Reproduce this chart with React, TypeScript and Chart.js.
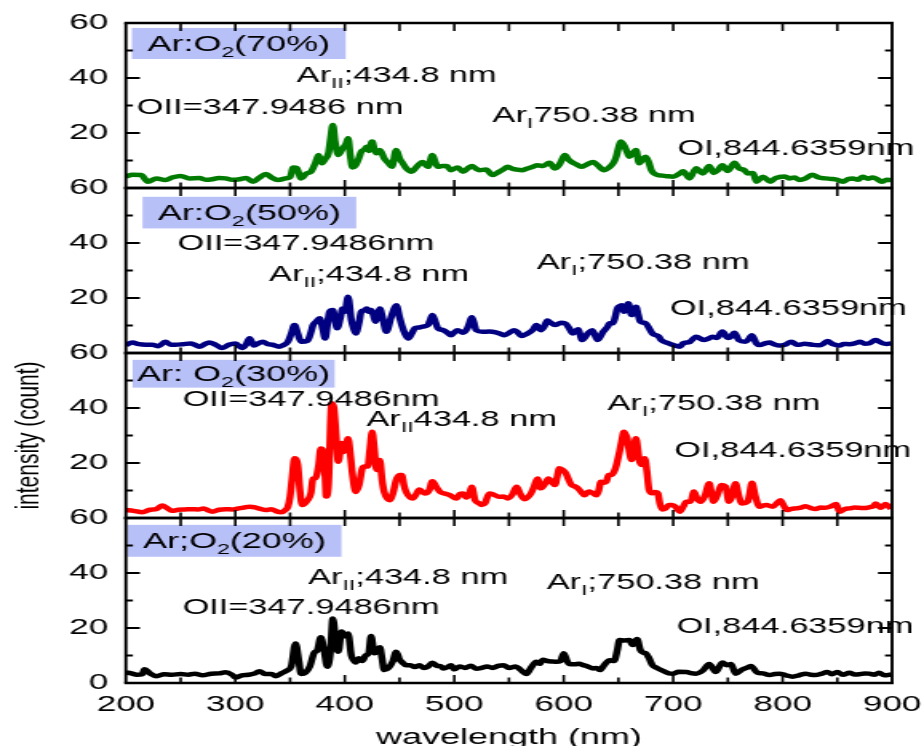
import React, { useEffect, useRef } from 'react';
import { Chart, registerables } from 'chart.js';

Chart.register(...registerables);

// ---------------- data ----------------
const xTicks = [200, 300, 400, 500, 600, 700, 800, 900];
const yTickLabels = [0, 20, 40, 60];

// Ar:O2 (70%) - green
const wl70 = [200, 206, 214, 220, 228, 236, 243, 250, 258, 267, 273, 279, 285, 291, 297, 304, 310, 316, 322, 328, 333, 339, 346, 350, 353, 356, 360, 365, 369, 373, 376, 379, 382, 385, 387, 389, 391, 394, 398, 401, 403, 405, 407, 410, 413, 415, 418, 420, 422, 425, 427, 429, 432, 436, 440, 443, 447, 450, 453, 456, 461, 464, 467, 471, 476, 480, 483, 485, 489, 493, 497, 503, 508, 512, 516, 520, 523, 529, 535, 541, 545, 549, 553, 557, 562, 566, 572, 576, 581, 587, 592, 596, 598, 601, 604, 607, 612, 616, 621, 627, 631, 637, 643, 646, 648, 650, 652, 655, 658, 660, 663, 666, 669, 672, 675, 678, 680, 686, 690, 694, 700, 706, 709, 715, 721, 727, 733, 737, 741, 745, 750, 756, 760, 765, 768, 773, 776, 782, 789, 793, 797, 802, 806, 811, 815, 821, 827, 833, 839, 845, 850, 855, 860, 864, 869, 873, 878, 882, 885, 891, 895, 899];
const int70 = [4.1, 4.8, 4.7, 2.3, 3.5, 2.9, 3.9, 4.4, 3.5, 3.6, 3.0, 3.2, 3.6, 3.5, 3.0, 3.2, 3.6, 2.3, 3.8, 5.1, 3.8, 2.9, 3.5, 4.0, 7.5, 7.3, 3.5, 5.3, 5.9, 9, 12, 9, 10.5, 12.6, 18, 22.9, 17, 12, 14.4, 16, 18.1, 12, 7.5, 8.3, 11, 13.2, 14, 15, 13.5, 16.9, 14, 12.6, 13.8, 10.8, 9, 7.7, 13.8, 10.8, 9, 7.2, 5.9, 7, 8.3, 9.5, 7.7, 12, 9, 7.7, 8, 8, 6.5, 7.5, 5.9, 7, 8, 7, 6.5, 6.7, 4.7, 5.9, 6.8, 7.7, 7, 6.7, 6.5, 7, 7.7, 8.3, 8, 9.2, 7.1, 8.5, 10, 12, 10.5, 9.5, 8.5, 7.7, 8.5, 9.5, 8.3, 6.5, 8, 9.5, 11.4, 14.5, 16.9, 15.6, 13, 11.4, 12.5, 13.8, 9, 10.5, 11.4, 9, 6.5, 4.7, 4.5, 4.3, 4.1, 5.3, 6.1, 3.5, 7.2, 5.3, 8, 5.5, 6.5, 8.3, 6.2, 9.2, 7.2, 6.5, 5.3, 5.5, 2.3, 4.1, 2.3, 3.5, 4, 4.2, 3.5, 3.8, 2.9, 3.5, 4.8, 3.8, 3.5, 3.3, 3.0, 2.3, 3.3, 3.5, 3.0, 4.1, 3.4, 3.8, 3.5, 2.3, 3.0, 2.9];

// Ar:O2 (50%) - navy
const wl50 = [200, 206, 212, 218, 224, 230, 236, 241, 245, 252, 259, 263, 267, 272, 276, 282, 288, 294, 300, 306, 310, 313, 317, 321, 325, 330, 334, 340, 343, 348, 351, 354, 357, 360, 366, 369, 371, 374, 377, 380, 382, 384, 386, 389, 391, 393, 396, 398, 400, 403, 406, 408, 410, 413, 415, 418, 420, 422, 424, 426, 428, 430, 432, 435, 438, 442, 444, 447, 450, 452, 455, 458, 461, 464, 468, 471, 476, 478, 480, 483, 485, 490, 494, 497, 500, 503, 508, 512, 514, 516, 518, 520, 526, 532, 538, 542, 546, 550, 555, 558, 561, 567, 572, 575, 579, 582, 585, 588, 592, 595, 598, 602, 605, 608, 610, 613, 617, 622, 626, 628, 631, 636, 640, 642, 645, 647, 649, 651, 653, 655, 657, 659, 662, 664, 666, 668, 670, 675, 678, 681, 687, 689, 696, 700, 706, 709, 715, 721, 728, 732, 736, 740, 745, 750, 753, 756, 760, 766, 769, 772, 776, 779, 784, 788, 792, 797, 802, 808, 812, 815, 820, 827, 833, 837, 841, 845, 848, 852, 856, 861, 866, 871, 875, 879, 885, 888, 891, 895, 899];
const int50 = [2.9, 3.8, 3.2, 3.0, 3.0, 2.5, 4.1, 3.0, 3.0, 3.2, 3.5, 3.0, 2.3, 3.2, 3.8, 3.0, 1.8, 3.0, 3.5, 1.8, 3.2, 5.4, 2.7, 3.5, 4.1, 3.2, 3.0, 2.3, 2.7, 4.1, 7, 10.2, 7.1, 4.1, 4.5, 7.5, 10.2, 11.5, 12.6, 8.5, 5.3, 10, 15, 15.6, 12, 9, 13, 16.2, 15, 20.5, 12, 9, 7.1, 11, 15, 15.5, 16.2, 15, 15.6, 14, 11.4, 14, 16.2, 12, 7.7, 12.6, 15, 17.4, 13, 10.2, 7, 5.3, 7, 9, 9.3, 9.6, 10.2, 12, 13.8, 11, 9, 8.3, 7.3, 6.5, 7.5, 8.3, 7.4, 9, 11, 13, 11, 8.3, 7.7, 7.8, 7.5, 7, 6.5, 7.3, 8.3, 7.5, 6.2, 7.1, 8.5, 10.2, 8.3, 9.5, 11.8, 11, 10.2, 10.6, 11, 10.6, 9, 7.1, 7.6, 8.6, 4.7, 7.1, 8.3, 7, 4.7, 7.7, 9.5, 10.8, 10.8, 13, 16.2, 17, 17.4, 15, 16.5, 18.1, 13.8, 15, 16.8, 14, 11.4, 10.8, 9, 7.1, 5.9, 4.7, 3.5, 2.9, 2.3, 3.5, 4, 5.9, 4.7, 5.2, 5.9, 5.5, 7.8, 5.5, 6, 7.4, 4.7, 4.1, 5, 6.5, 3.5, 2.9, 3.5, 3.8, 3.2, 2.7, 3.0, 4.1, 3.2, 3.0, 3.4, 3.0, 2.8, 3.3, 4.4, 3.4, 3.0, 2.7, 3.3, 3.2, 3.5, 4.1, 3.4, 3.5, 4.7, 4.2, 3.6, 3.3, 3.5];

// Ar:O2 (30%) - red
const wl30 = [200, 207, 215, 222, 228, 233, 238, 242, 248, 254, 260, 266, 271, 275, 279, 285, 291, 297, 303, 308, 313, 318, 323, 328, 333, 337, 342, 346, 348, 350, 352, 354, 357, 359, 361, 366, 369, 371, 373, 376, 378, 380, 382, 383, 385, 388, 390, 392, 394, 397, 399, 401, 403, 405, 407, 410, 413, 416, 418, 421, 423, 425, 427, 429, 432, 434, 436, 441, 444, 447, 450, 452, 454, 456, 462, 465, 468, 473, 477, 480, 484, 487, 492, 496, 502, 505, 508, 511, 514, 516, 519, 523, 525, 528, 532, 536, 541, 545, 549, 553, 557, 560, 564, 567, 570, 573, 576, 579, 583, 586, 589, 592, 594, 596, 599, 602, 605, 607, 610, 613, 616, 619, 623, 626, 630, 632, 634, 637, 639, 641, 643, 646, 648, 651, 653, 655, 657, 658, 660, 662, 664, 666, 668, 669, 671, 674, 676, 678, 681, 684, 686, 688, 690, 693, 696, 699, 702, 706, 709, 712, 716, 719, 722, 725, 729, 733, 735, 737, 741, 744, 748, 751, 754, 757, 760, 763, 768, 770, 772, 775, 779, 782, 785, 791, 795, 798, 801, 804, 808, 812, 817, 821, 826, 830, 835, 839, 844, 849, 852, 857, 861, 866, 870, 875, 879, 883, 885, 888, 890, 894, 897, 899];
const int30 = [2.9, 2.6, 2.1, 3.0, 3.3, 4.5, 3.5, 2.6, 3.0, 3.1, 3.2, 3.1, 3.5, 2.8, 2.3, 3.0, 3.2, 3.1, 3.5, 3.8, 4.1, 3.9, 3.3, 2.9, 3.2, 2.5, 2.1, 3.0, 4.1, 7.8, 15, 21.7, 19.3, 10, 4.7, 6.5, 9, 14.4, 14.4, 19, 25.3, 24.5, 15, 7.8, 12, 41.7, 40, 30, 20.5, 27.3, 24, 26, 29, 23.5, 16, 9.5, 12, 18, 18.7, 18.7, 25, 31.4, 25, 17.5, 21.1, 14, 9.5, 6.5, 9, 13.8, 15.6, 15.6, 12, 9.5, 7.1, 8.5, 10.4, 8.9, 10, 13.4, 11, 9.5, 8.8, 8.3, 7.1, 8.7, 8.9, 7.5, 9, 11.4, 6.5, 5.3, 4.7, 5.3, 8.9, 8.5, 7.7, 7.8, 7.1, 8.5, 11.4, 9, 6.8, 7.5, 8.9, 11.5, 14.4, 10.8, 12.5, 14.4, 13, 12, 15, 18.1, 17.5, 16.2, 13.5, 12, 11.5, 10.8, 9.5, 8.3, 9.6, 9.2, 8.3, 10, 13.2, 12.8, 13.2, 15.6, 15.6, 16.8, 19, 24.1, 28, 31.4, 30, 29, 24, 21.1, 25, 29, 24, 21, 19.3, 21.7, 17, 10.2, 9, 9.5, 9, 5, 3.1, 3.5, 4.7, 4.7, 4.1, 2.3, 4, 5.9, 6, 9.6, 7, 5.9, 8, 12.6, 9, 5.9, 9, 12, 11.4, 5.9, 8, 12.6, 8, 5.3, 5.9, 9, 12.8, 8, 4.1, 4.5, 4.7, 4.1, 5.5, 6.5, 4.5, 2.9, 3.3, 3.5, 3.8, 4.3, 3.6, 3.3, 3.8, 3.7, 4.2, 5.1, 2.3, 3.3, 3.5, 3.8, 3.7, 3.6, 3.9, 4.3, 5.3, 4.2, 3.7, 5.1, 4.2, 3.3];

// Ar;O2 (20%) - black
const wl20 = [200, 205, 210, 215, 217, 222, 228, 235, 242, 250, 257, 263, 270, 278, 285, 291, 297, 300, 306, 312, 318, 322, 327, 333, 337, 342, 347, 351, 355, 358, 360, 364, 368, 372, 375, 378, 381, 384, 387, 389, 392, 394, 397, 400, 403, 406, 408, 410, 413, 416, 419, 422, 424, 427, 430, 432, 434, 436, 440, 444, 447, 450, 452, 456, 460, 464, 468, 472, 476, 480, 484, 488, 490, 494, 497, 500, 505, 510, 515, 520, 525, 530, 535, 540, 545, 550, 556, 560, 566, 570, 575, 578, 581, 585, 590, 593, 597, 600, 603, 605, 610, 614, 618, 622, 627, 630, 633, 637, 642, 646, 649, 651, 655, 660, 663, 667, 670, 673, 675, 678, 681, 685, 689, 693, 696, 700, 705, 712, 716, 721, 727, 733, 739, 745, 749, 753, 757, 763, 767, 771, 777, 782, 788, 793, 797, 803, 809, 815, 821, 826, 830, 835, 841, 845, 850, 855, 861, 866, 870, 875, 879, 884, 888, 893, 899];
const int20 = [3.8, 3.5, 3.0, 3.2, 5.0, 3.5, 2.5, 3.2, 3.0, 3.3, 3.0, 3.4, 2.8, 3.4, 3.5, 3.9, 3.0, 2.0, 2.8, 3.0, 3.5, 4.3, 3.3, 3.3, 2.5, 3.5, 4.5, 6, 14.4, 8, 3.3, 3.8, 6, 11, 12, 16.6, 12, 5.9, 12, 23.5, 14, 11.4, 18.7, 17, 18, 10, 8.3, 7.5, 9, 8, 10, 11, 17.1, 10.8, 12, 13, 9, 4.7, 5.5, 8, 11.4, 8.5, 7.7, 6.5, 6.5, 5.8, 6.5, 5.5, 6, 7.4, 6.3, 6, 5.3, 5.8, 6.5, 5.0, 6, 5.5, 6.3, 5.2, 5.5, 6, 5.5, 6.2, 6.5, 5.5, 6.0, 5, 3.3, 5.5, 7.7, 7, 8.5, 8, 7.8, 7.7, 8, 10.8, 8, 6.9, 6.8, 7, 6.5, 6, 5.3, 5.5, 4.7, 6.5, 8.3, 8, 12, 15.6, 15.5, 15.6, 13.8, 16, 12, 11, 10.8, 9, 6.5, 5.5, 4.7, 4, 3.5, 3.4, 4.1, 4, 3.6, 3.4, 4.5, 6.9, 4, 7.5, 6.5, 6.9, 3.4, 4.9, 5.5, 6.2, 3.7, 3.5, 2.9, 3.3, 3.4, 2.8, 2.3, 2.8, 3.4, 3.0, 2.9, 3.3, 4.0, 3.2, 4.0, 3.0, 3.7, 3.1, 3.2, 3.5, 3.4, 3.0, 3.7, 2.8, 3.1];

// ---------------- presentation ----------------
const W_CSS = 924;
const H = 746;
const W = 578; // drawing width; the picture is stretched horizontally to 924 px
const FONT = '"Liberation Sans", Arial, Helvetica, sans-serif';
const ANN_SIZE = 21.5;
const BOX_SIZE = 22.5;
const SUB_SIZE = 14.5;
const BOX_FILL = 'rgb(184,192,248)';

type Run = { t: string; sub?: boolean };
type Ann = { x: number; y: number; runs: Run[] };
type Panel = {
  id: string; wl: number[]; val: number[]; color: string;
  box: { x0: number; x1: number; y0: number; y1: number; runs: Run[] };
  notes: Ann[];
};

const ArII = (tail: string): Run[] => [{ t: 'Ar' }, { t: 'II', sub: true }, { t: tail }];
const ArI = (tail: string): Run[] => [{ t: 'Ar' }, { t: 'I', sub: true }, { t: tail }];
const O2 = (pre: string, pct: string): Run[] => [{ t: pre }, { t: '2', sub: true }, { t: pct }];

// bottom to top (last one is placed at the top of the stack)
const panels: Panel[] = [
  {
    id: 'y20', wl: wl20, val: int20, color: '#000000',
    box: { x0: 201.6, x1: 396.9, y0: 45.9, y1: 57.5, runs: O2('Ar;O', '(20%)') },
    notes: [
      { x: 366.4, y: 38.9, runs: ArII(';434.8 nm') },
      { x: 251.7, y: 28, runs: [{ t: 'OII=347.9486nm' }] },
      { x: 584.5, y: 37.1, runs: ArI(';750.38 nm') },
      { x: 703, y: 21.1, runs: [{ t: 'OI,844.6359nm' }] },
    ],
  },
  {
    id: 'y30', wl: wl30, val: int30, color: '#ff0000',
    box: { x0: 206.1, x1: 390.7, y0: 47.4, y1: 57.5, runs: O2('Ar: O', '(30%)') },
    notes: [
      { x: 251.7, y: 43.6, runs: [{ t: 'OII=347.9486nm' }] },
      { x: 419.7, y: 36.4, runs: ArII('434.8 nm') },
      { x: 640, y: 42, runs: ArI(';750.38 nm') },
      { x: 701, y: 25, runs: [{ t: 'OI,844.6359nm' }] },
    ],
  },
  {
    id: 'y50', wl: wl50, val: int50, color: '#000080',
    box: { x0: 215.2, x1: 410.5, y0: 45.3, y1: 56.8, runs: O2('Ar:O', '(50%)') },
    notes: [
      { x: 247, y: 40.4, runs: [{ t: 'OII=347.9486nm' }] },
      { x: 330.8, y: 29.1, runs: ArII(';434.8 nm') },
      { x: 575.4, y: 33.5, runs: ArI(';750.38 nm') },
      { x: 697, y: 16.7, runs: [{ t: 'OI,844.6359nm' }] },
    ],
  },
  {
    id: 'y70', wl: wl70, val: int70, color: '#007a00',
    box: { x0: 205.5, x1: 400.8, y0: 46.9, y1: 58.2, runs: O2('Ar:O', '(70%)') },
    notes: [
      { x: 356, y: 41.5, runs: ArII(';434.8 nm') },
      { x: 210, y: 29.8, runs: [{ t: 'OII=347.9486 nm' }] },
      { x: 535, y: 26.7, runs: ArI('750.38 nm') },
      { x: 703.8, y: 14.9, runs: [{ t: 'OI,844.6359nm' }] },
    ],
  },
];

function drawRuns(ctx: CanvasRenderingContext2D, runs: Run[], x: number, y: number, center: boolean, size: number) {
  let total = 0;
  const widths: number[] = [];
  for (const r of runs) {
    ctx.font = `${r.sub ? SUB_SIZE : size}px ${FONT}`;
    const w = ctx.measureText(r.t).width;
    widths.push(w);
    total += w;
  }
  let cx = center ? x - total / 2 : x;
  ctx.textAlign = 'left';
  ctx.textBaseline = 'alphabetic';
  const base = y + size * 0.36;
  runs.forEach((r, i) => {
    ctx.font = `${r.sub ? SUB_SIZE : size}px ${FONT}`;
    ctx.fillText(r.t, cx, r.sub ? base + 6 : base);
    cx += widths[i];
  });
}

const framePlugin = {
  id: 'panelFrames',
  afterDatasetsDraw(chart: any) {
    const ctx: CanvasRenderingContext2D = chart.ctx;
    const xs = chart.scales.x;
    const { left, right } = chart.chartArea;
    ctx.save();
    ctx.fillStyle = '#000';
    // annotations
    for (const p of panels) {
      const ys = chart.scales[p.id];
      const bx0 = xs.getPixelForValue(p.box.x0);
      const bx1 = xs.getPixelForValue(p.box.x1);
      const by0 = ys.getPixelForValue(p.box.y1);
      const by1 = ys.getPixelForValue(p.box.y0);
      ctx.fillStyle = BOX_FILL;
      ctx.fillRect(bx0, by0, bx1 - bx0, by1 - by0);
      ctx.fillStyle = '#000';
      drawRuns(ctx, p.box.runs, (bx0 + bx1) / 2, (by0 + by1) / 2 - 1, true, BOX_SIZE);
      for (const n of p.notes) {
        drawRuns(ctx, n.runs, xs.getPixelForValue(n.x), ys.getPixelForValue(n.y), false, ANN_SIZE);
      }
    }
    // frames and inward ticks
    ctx.strokeStyle = '#000';
    for (const p of panels) {
      const ys = chart.scales[p.id];
      const top = ys.top;
      const bottom = ys.bottom;
      ctx.lineWidth = 2.4;
      ctx.beginPath();
      ctx.moveTo(left - 1, top); ctx.lineTo(right + 1, top);
      ctx.moveTo(left - 1, bottom); ctx.lineTo(right + 1, bottom);
      ctx.stroke();
      ctx.lineWidth = 1.9;
      ctx.beginPath();
      ctx.moveTo(left, top); ctx.lineTo(left, bottom);
      ctx.moveTo(right, top); ctx.lineTo(right, bottom);
      ctx.stroke();
      // y ticks
      ctx.lineWidth = 2.2;
      ctx.beginPath();
      for (let v = 10; v < 60; v += 10) {
        const py = ys.getPixelForValue(v);
        const len = v % 20 === 0 ? 8.75 : 4.4;
        ctx.moveTo(left, py); ctx.lineTo(left + len, py);
        ctx.moveTo(right, py); ctx.lineTo(right - len, py);
      }
      ctx.stroke();
      // x ticks
      ctx.lineWidth = 1.6;
      ctx.beginPath();
      for (let w = 250; w < 900; w += 50) {
        const px = xs.getPixelForValue(w);
        const len = w % 100 === 0 ? 8 : 5.5;
        ctx.moveTo(px, top); ctx.lineTo(px, top + 8);
        ctx.moveTo(px, bottom); ctx.lineTo(px, bottom - len);
      }
      ctx.stroke();
    }
    ctx.restore();
  },
};

function yScale(showZero: boolean, withTitle: boolean) {
  return {
    type: 'linear',
    position: 'left',
    stack: 'panels',
    stackWeight: 1,
    min: 0,
    max: 60,
    ticks: {
      stepSize: 10,
      autoSkip: false,
      padding: 11,
      color: '#000',
      font: { family: FONT, size: 22 },
      callback: (v: number) => (yTickLabels.includes(v) && (showZero || v !== 0) ? String(v) : ''),
    },
    grid: { display: false, drawTicks: false },
    border: { display: false },
    title: {
      display: withTitle,
      text: 'intensity (count)',
      color: '#000',
      font: { family: FONT, size: 21, lineHeight: 1 },
      padding: { top: 8, bottom: 0 },
    },
    afterFit: (s: any) => {
      s.width = 78.75;
      s.paddingTop = 0;
      s.paddingBottom = 0;
    },
  };
}

export default function App() {
  const ref = useRef<HTMLCanvasElement | null>(null);
  useEffect(() => {
    if (!ref.current) return;
    const chart = new Chart(ref.current, {
      type: 'line',
      data: {
        datasets: panels.map((p) => ({
          label: p.id,
          data: p.wl.map((x, i) => ({ x, y: p.val[i] })),
          yAxisID: p.id,
          borderColor: p.color,
          backgroundColor: p.color,
          borderWidth: 4.5,
          pointRadius: 0,
          cubicInterpolationMode: 'monotone',
          fill: false,
        })),
      } as any,
      options: {
        animation: false,
        responsive: false,
        devicePixelRatio: 1,
        layout: { padding: { top: 23, right: 20, left: 0, bottom: 0 } },
        plugins: { legend: { display: false }, tooltip: { enabled: false } },
        scales: {
          x: {
            type: 'linear',
            position: 'bottom',
            min: 200,
            max: 900,
            afterBuildTicks: (s: any) => { s.ticks = xTicks.map((value) => ({ value })); },
            ticks: {
              autoSkip: false,
              maxRotation: 0,
              padding: 9,
              color: '#000',
              font: { family: FONT, size: 22 },
            },
            grid: { display: false, drawTicks: false },
            border: { display: false },
            title: {
              display: true,
              text: 'wavelength (nm)',
              color: '#000',
              font: { family: FONT, size: 22.5, lineHeight: 1 },
              padding: { top: 0, bottom: -3.5 },
            },
            afterFit: (s: any) => {
              s.height = 63;
              s.paddingLeft = 0;
              s.paddingRight = 0;
            },
          },
          y20: yScale(true, false),
          y30: yScale(false, true),
          y50: yScale(false, false),
          y70: yScale(false, false),
        },
      } as any,
      plugins: [framePlugin],
    });
    return () => chart.destroy();
  }, []);
  return (
    <div style={{ position: 'absolute', left: 0, top: 0, width: W_CSS, height: H, background: '#fff' }}>
      <canvas
        ref={ref}
        width={W}
        height={H}
        style={{ width: `${W_CSS}px`, height: `${H}px`, display: 'block' }}
      />
    </div>
  );
}
